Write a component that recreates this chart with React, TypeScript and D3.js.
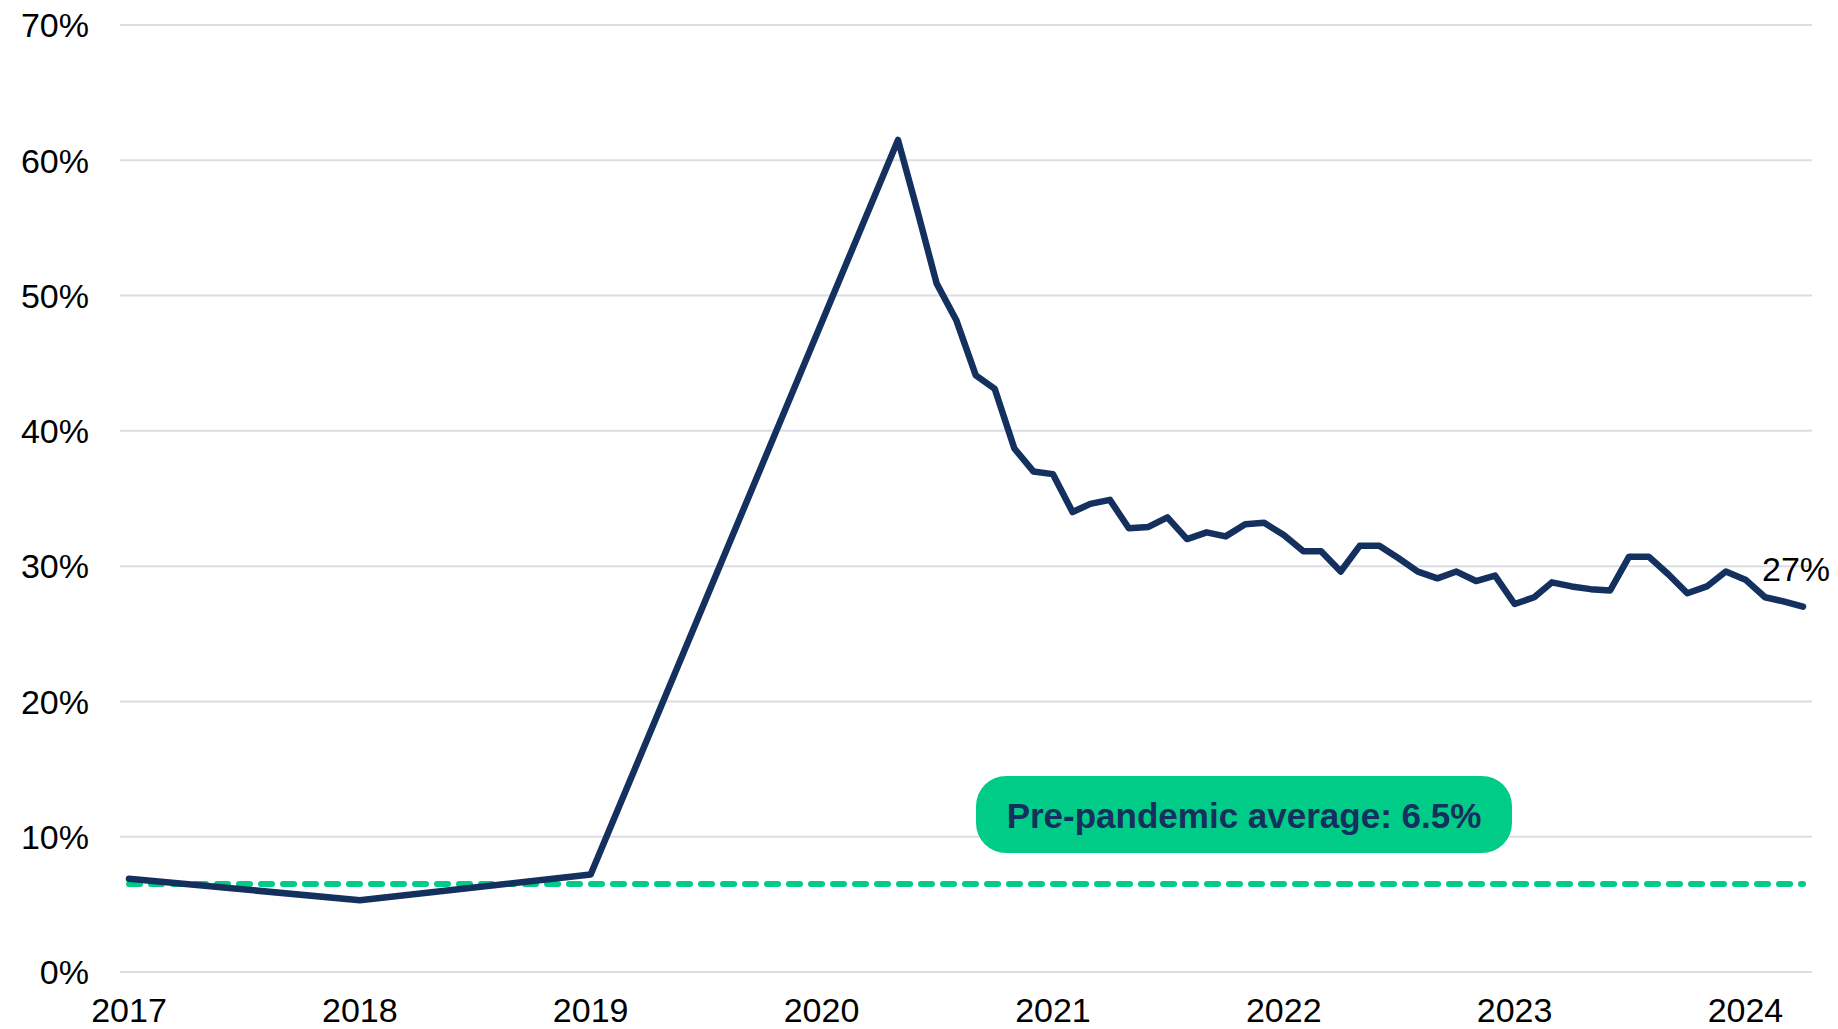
import * as d3 from "d3";

// pre-pandemic yearly readings (January of each year)
const preDates = ["2017-01-01", "2018-01-01", "2019-01-01"];
const preValues = [6.9, 5.3, 7.2];

// monthly readings from May 2020 to April 2024
const monthlyStart = "2020-05-01";
const monthlyValues = [
  // 2020 May-Dec
  61.5, 56.2, 50.9, 48.2, 44.1, 43.1, 38.7, 37.0,
  // 2021
  36.8, 34.0, 34.6, 34.9, 32.8, 32.9, 33.6, 32.0, 32.5, 32.2, 33.1, 33.2,
  // 2022
  32.3, 31.1, 31.1, 29.6, 31.5, 31.5, 30.6, 29.6, 29.1, 29.6, 28.9, 29.3,
  // 2023
  27.2, 27.7, 28.8, 28.5, 28.3, 28.2, 30.7, 30.7, 29.4, 28.0, 28.5, 29.6,
  // 2024 Jan-Apr
  29.0, 27.7, 27.4, 27.0,
];

const preAverage = 6.5;
const averageLabel = "Pre-pandemic average: 6.5%";
const lastLabel = "27%";

const yTicks = [0, 10, 20, 30, 40, 50, 60, 70];
const xYears = [2017, 2018, 2019, 2020, 2021, 2022, 2023, 2024];

const NAVY = "#14305e";
const GREEN = "#00cc88";
const GRID = "#dcdce4";
const FONT = "'Liberation Sans', Arial, sans-serif";

interface Point {
  date: Date;
  value: number;
}

export default function App() {
  const width = 1838;
  const height = 1029;
  const plot = { left: 120, right: 1812, top: 25, bottom: 972 };
  const pad = 9;

  const parse = d3.timeParse("%Y-%m-%d");
  const start = parse(monthlyStart) as Date;
  const data: Point[] = [
    ...preDates.map((d, i) => ({ date: parse(d) as Date, value: preValues[i] })),
    ...monthlyValues.map((v, i) => ({ date: d3.timeMonth.offset(start, i), value: v })),
  ];
  const first = data[0];
  const last = data[data.length - 1];

  const x = d3
    .scaleTime()
    .domain([first.date, last.date])
    .range([plot.left + pad, plot.right - pad]);
  const y = d3.scaleLinear().domain([0, 70]).range([plot.bottom, plot.top]);

  const line = d3
    .line<Point>()
    .x((d) => x(d.date))
    .y((d) => y(d.value));

  const box = { x: 976, y: 776, w: 536, h: 77 };

  return (
    <svg
      width={width}
      height={height}
      style={{ position: "absolute", left: 0, top: 0, background: "#fff" }}
      fontFamily={FONT}
    >
      {yTicks.map((t) => (
        <g key={`y-${t}`}>
          <line
            x1={plot.left}
            x2={plot.right}
            y1={y(t)}
            y2={y(t)}
            stroke={GRID}
            strokeWidth={2}
          />
          <text
            x={89}
            y={y(t)}
            dy="0.36em"
            textAnchor="end"
            fontSize={34}
            fill="#000"
          >
            {`${t}%`}
          </text>
        </g>
      ))}

      {xYears.map((yr) => (
        <text
          key={`x-${yr}`}
          x={x(new Date(yr, 0, 1))}
          y={1022}
          textAnchor="middle"
          fontSize={34}
          fill="#000"
        >
          {yr}
        </text>
      ))}

      <line
        x1={x(first.date)}
        x2={x(last.date)}
        y1={y(preAverage)}
        y2={y(preAverage)}
        stroke={GREEN}
        strokeWidth={6}
        strokeDasharray="11 11"
        strokeLinecap="round"
      />

      <path
        d={line(data) as string}
        fill="none"
        stroke={NAVY}
        strokeWidth={6.5}
        strokeLinejoin="round"
        strokeLinecap="round"
      />

      <text
        x={x(last.date) - 7}
        y={y(last.value) - 26}
        textAnchor="middle"
        fontSize={34}
        fill="#000"
      >
        {lastLabel}
      </text>

      <g>
        <rect
          x={box.x}
          y={box.y}
          width={box.w}
          height={box.h}
          rx={30}
          ry={30}
          fill={GREEN}
        />
        <text
          x={box.x + box.w / 2}
          y={box.y + 52}
          textAnchor="middle"
          fontSize={35}
          fontWeight="bold"
          fill={NAVY}
        >
          {averageLabel}
        </text>
      </g>
    </svg>
  );
}
